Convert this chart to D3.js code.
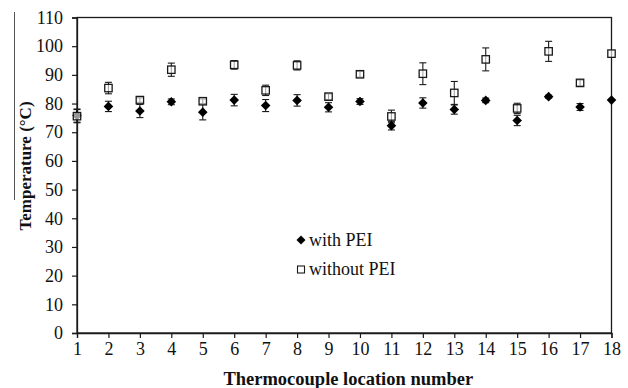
<!DOCTYPE html>
<html><head><meta charset="utf-8">
<script src="https://cdn.jsdelivr.net/npm/d3@7"></script>
<style>body{margin:0;background:#fff}svg{display:block}text{font-family:"Liberation Serif","Times New Roman",serif;fill:#111}</style>
</head><body><svg id="c" width="628" height="388"></svg>
<script>
const locations = [1,2,3,4,5,6,7,8,9,10,11,12,13,14,15,16,17,18];
const withPEI    = [75.8,79.0,77.4,80.6,77.0,81.2,79.3,81.1,78.7,80.7,72.3,80.2,77.9,81.1,74.1,82.4,78.8,81.2];
const withErr    = [2.3,1.8,2.3,1.0,2.7,2.0,2.1,2.0,1.6,1.0,1.5,1.8,1.6,0.8,1.8,0.5,1.2,0];
const withoutPEI = [75.6,85.4,81.2,91.8,80.8,93.5,84.6,93.3,82.4,90.2,75.5,90.4,83.7,95.4,78.3,98.2,87.2,97.4];
const withoutErr = [2.3,2.0,0.8,2.3,0.8,1.5,1.8,1.6,1.0,1.0,2.2,3.8,4.0,4.0,1.8,3.5,1.0,0];
const yTicks = [0,10,20,30,40,50,60,70,80,90,100,110];
const seriesNames = ["with PEI","without PEI"];

const svg = d3.select("#c");
const L=77, R=611.5, T=17.5, B=333;
const x = d3.scaleLinear().domain([1,18]).range([L,R]);
const y = d3.scaleLinear().domain([0,110]).range([B,T]);
const ink="#1a1a1a";
const serif='"Liberation Serif","Times New Roman",serif';

// stray scan line at far left
svg.append("line").attr("x1",14.5).attr("x2",14.5).attr("y1",12).attr("y2",200).attr("stroke","#555").attr("stroke-width",1);

// frame
svg.append("rect").attr("x",L).attr("y",T).attr("width",R-L).attr("height",B-T).attr("fill","none").attr("stroke",ink).attr("stroke-width",1.3);

const yAxis = svg.append("g").attr("transform",`translate(${L},0)`)
  .call(d3.axisLeft(y).tickValues(yTicks).tickSize(5).tickPadding(9).tickFormat(d3.format("d")));
const xAxis = svg.append("g").attr("transform",`translate(0,${B})`)
  .call(d3.axisBottom(x).tickValues(locations).tickSize(5).tickPadding(4).tickFormat(d3.format("d")));
[yAxis,xAxis].forEach(g=>{
  g.attr("font-family",serif).attr("font-size",18);
  g.select(".domain").attr("stroke",ink).attr("stroke-width",1.3);
  g.selectAll(".tick line").attr("stroke",ink).attr("stroke-width",1.2);
  g.selectAll(".tick text").style("font-size","18px").style("font-family",serif).attr("fill","#111");
});

svg.append("text").attr("x",(L+R)/2+4).attr("y",385).attr("text-anchor","middle")
  .style("font-size","18.5px").style("font-weight","bold").text("Thermocouple location number");
svg.append("text").attr("transform","translate(31,166) rotate(-90)").attr("text-anchor","middle")
  .style("font-size","17px").style("font-weight","bold").text("Temperature (°C)");

function errorBars(vals, errs){
  const g = svg.append("g").attr("stroke",ink).attr("stroke-width",1.1);
  locations.forEach((l,i)=>{
    if(!errs[i]) return;
    const cx=x(l), y1=y(vals[i]+errs[i]), y2=y(vals[i]-errs[i]);
    g.append("line").attr("x1",cx).attr("x2",cx).attr("y1",y1).attr("y2",y2);
    g.append("line").attr("x1",cx-3.5).attr("x2",cx+3.5).attr("y1",y1).attr("y2",y1);
    g.append("line").attr("x1",cx-3.5).attr("x2",cx+3.5).attr("y1",y2).attr("y2",y2);
  });
}
errorBars(withoutPEI, withoutErr);
errorBars(withPEI, withErr);

const diamond = (cx,cy,r)=>`M${cx},${cy-r}L${cx+r},${cy}L${cx},${cy+r}L${cx-r},${cy}Z`;
svg.append("g").selectAll("path").data(locations).join("path")
  .attr("d",(l,i)=>diamond(x(l),y(withPEI[i]),4.8)).attr("fill","#000");
svg.append("g").selectAll("rect").data(locations).join("rect")
  .attr("x",(l,i)=>x(l)-3.7).attr("y",(l,i)=>y(withoutPEI[i])-3.7).attr("width",7.4).attr("height",7.4)
  .attr("fill","#fff").attr("fill-opacity",0.6).attr("stroke",ink).attr("stroke-width",1.3);

// legend
svg.append("path").attr("d",diamond(301,240,4.5)).attr("fill","#000");
svg.append("text").attr("x",309).attr("y",246).style("font-size","18px").text(seriesNames[0]);
svg.append("rect").attr("x",297.5).attr("y",266).attr("width",7).attr("height",7).attr("fill","#fff").attr("stroke",ink).attr("stroke-width",1.1);
svg.append("text").attr("x",309).attr("y",275).style("font-size","18px").text(seriesNames[1]);
</script></body></html>
